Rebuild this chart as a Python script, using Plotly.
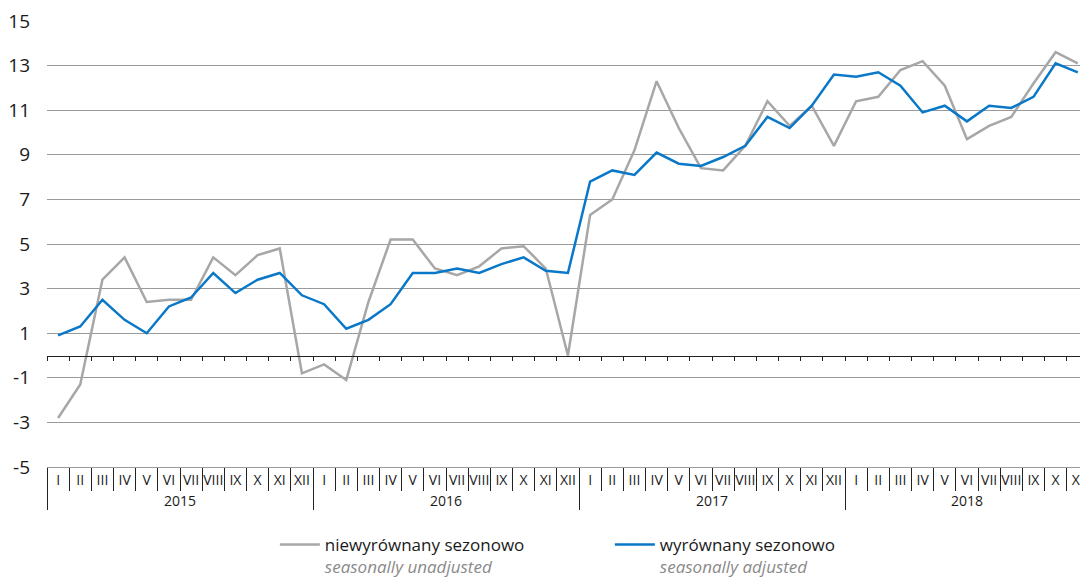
import plotly.graph_objects as go

years = ["2015"] * 12 + ["2016"] * 12 + ["2017"] * 12 + ["2018"] * 11
month_names = ["I", "II", "III", "IV", "V", "VI", "VII", "VIII", "IX", "X", "XI", "XII"]
months = (month_names * 4)[:47]

unadjusted = [-2.8, -1.3, 3.4, 4.4, 2.4, 2.5, 2.5, 4.4, 3.6, 4.5, 4.8, -0.8,
              -0.4, -1.1, 2.4, 5.2, 5.2, 3.9, 3.6, 4.0, 4.8, 4.9, 3.9, 0.0,
              6.3, 7.0, 9.2, 12.3, 10.2, 8.4, 8.3, 9.4, 11.4, 10.3, 11.2, 9.4,
              11.4, 11.6, 12.8, 13.2, 12.1, 9.7, 10.3, 10.7, 12.2, 13.6, 13.1]
adjusted = [0.9, 1.3, 2.5, 1.6, 1.0, 2.2, 2.6, 3.7, 2.8, 3.4, 3.7, 2.7,
            2.3, 1.2, 1.6, 2.3, 3.7, 3.7, 3.9, 3.7, 4.1, 4.4, 3.8, 3.7,
            7.8, 8.3, 8.1, 9.1, 8.6, 8.5, 8.9, 9.4, 10.7, 10.2, 11.2, 12.6,
            12.5, 12.7, 12.1, 10.9, 11.2, 10.5, 11.2, 11.1, 11.6, 13.1, 12.7]

y_ticks = [-5, -3, -1, 1, 3, 5, 7, 9, 11, 13, 15]
y_ticktext = ["-5", "-3", "-1", "1", "3", "5", "7", "9", "11", "13", "15"]
boundaries = [i - 0.5 for i in range(49)]

FONT = "Open Sans"
GREY = "#a7a7a7"
BLUE = "#0a78c8"

fig = go.Figure()
fig.add_trace(go.Scatter(
    x=[years, months], y=unadjusted, mode="lines",
    line=dict(color=GREY, width=2.5),
    name="niewyrównany sezonowo<br><i><span style='color:#8a8a8a'>seasonally unadjusted</span></i>",
))
fig.add_trace(go.Scatter(
    x=[years, months], y=adjusted, mode="lines",
    line=dict(color=BLUE, width=2.5),
    name="wyrównany sezonowo<br><i><span style='color:#8a8a8a'>seasonally adjusted</span></i>",
))
# helper trace for the zero axis
fig.add_trace(go.Scatter(x=[None], y=[None], xaxis="x2", yaxis="y",
                         showlegend=False, hoverinfo="skip"))

fig.update_layout(
    width=1080, height=581,
    margin=dict(l=47, r=0, t=21, b=114),
    paper_bgcolor="white", plot_bgcolor="white",
    font=dict(family=FONT, color="#1a1a1a"),
    showlegend=True,
    legend=dict(orientation="h", xref="container", yref="container",
                x=0.2545, xanchor="left", y=0.093, yanchor="top",
                valign="top", font=dict(size=17, family=FONT, color="#1a1a1a"),
                entrywidth=280, itemwidth=40),
    xaxis=dict(type="multicategory", range=[-0.5, 46.1], automargin=False,
               showgrid=False, showline=True, linecolor="#9a9a9a", linewidth=1,
               ticks="outside", tickson="boundaries", ticklen=23, tickcolor="#222",
               tickwidth=1, showdividers=True, dividercolor="#222", dividerwidth=1,
               tickangle=0,
               tickfont=dict(size=14, family=FONT, color="#1a1a1a")),
    xaxis2=dict(overlaying="x", anchor="free", position=0.25, range=[-0.5, 46.1],
                showgrid=False, showline=True, linecolor="#222", linewidth=1,
                ticks="outside", ticklen=4, tickcolor="#222", tickwidth=1,
                tickvals=boundaries, showticklabels=False, zeroline=False),
    yaxis=dict(range=[-5, 15], tickvals=y_ticks, ticktext=y_ticktext,
               showgrid=True, gridcolor="#9a9a9a", automargin=False,
               gridwidth=1, zeroline=False, showline=False, ticks="",
               ticklabelstandoff=16,
               tickfont=dict(size=19, family=FONT, color="#1a1a1a")),
)

fig.write_html("out.html", config={"displayModeBar": False},
               post_script="document.body.style.margin='0';document.body.style.overflow='hidden';")
